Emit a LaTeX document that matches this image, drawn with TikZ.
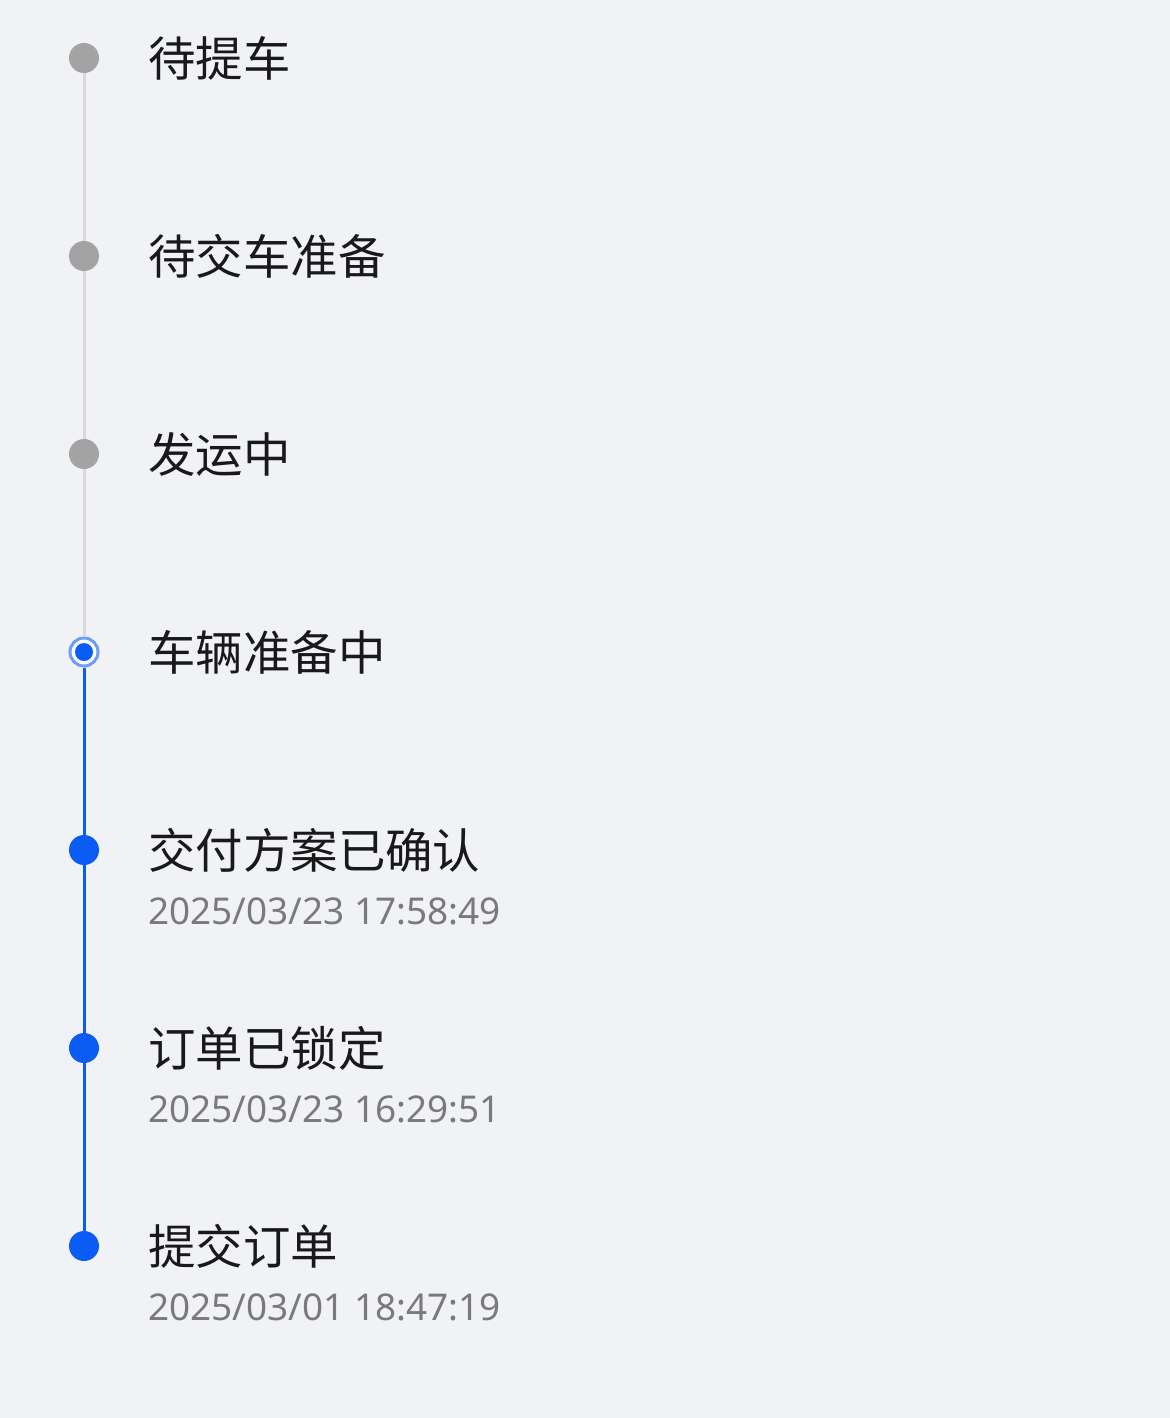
\documentclass[tikz,border=0pt]{standalone}
\usepackage{fontspec}
\setmainfont{Noto Sans CJK SC}
\newfontfamily\numfont{Noto Sans}
\definecolor{bg}{HTML}{F1F2F6}
\definecolor{gdot}{HTML}{A3A3A3}
\definecolor{gline}{HTML}{D9D9D9}
\definecolor{bl}{HTML}{0A5CF5}
\definecolor{lbl}{HTML}{6E9DF7}
\definecolor{dategray}{HTML}{7A7A7A}
\begin{document}
\begin{tikzpicture}[x=0.02cm,y=-0.02cm,
  title/.style={anchor=west,inner sep=0pt,font=\fontsize{27}{30}\selectfont,text=black!90},
  date/.style={anchor=west,inner sep=0pt,font=\numfont\fontsize{21}{24}\selectfont,text=dategray},
  gd/.style={circle,fill=gdot,minimum size=30*0.02cm,inner sep=0pt},
  bd/.style={circle,fill=bl,minimum size=30*0.02cm,inner sep=0pt}]
\fill[bg] (0,0) rectangle (1170,1418);
\useasboundingbox (0,0) rectangle (1170,1418);
\node[gd] (d1) at (84,58) {};
\node[gd] (d2) at (84,256) {};
\node[gd] (d3) at (84,454) {};
\node[circle,draw=lbl,line width=3*0.02cm,fill=white,minimum size=28*0.02cm,inner sep=0pt] (d4) at (84,652) {};
\node[bd] (d5) at (84,850) {};
\node[bd] (d6) at (84,1048) {};
\node[bd] (d7) at (84,1246) {};
\begin{scope}[on background layer/.style={}]
\end{scope}
\draw[gline,line width=3*0.02cm] (d1.south) -- (d2.north) (d2.south) -- (d3.north) (d3.south) -- (d4.north);
\draw[bl,line width=3*0.02cm] (d4.south) -- (d5.north) (d5.south) -- (d6.north) (d6.south) -- (d7.north);
\fill[bl] (d4) circle (9*0.02cm);
\node[title] (t1) at (148,58) {待提车};
\node[title] (t2) at (148,256) {待交车准备};
\node[title] (t3) at (148,454) {发运中};
\node[title] (t4) at (148,652) {车辆准备中};
\node[title] (t5) at (148,850) {交付方案已确认};
\node[date] (s5) at (148,911) {2025/03/23 17:58:49};
\node[title] (t6) at (148,1048) {订单已锁定};
\node[date] (s6) at (148,1109) {2025/03/23 16:29:51};
\node[title] (t7) at (148,1246) {提交订单};
\node[date] (s7) at (148,1307) {2025/03/01 18:47:19};
\end{tikzpicture}
\end{document}
